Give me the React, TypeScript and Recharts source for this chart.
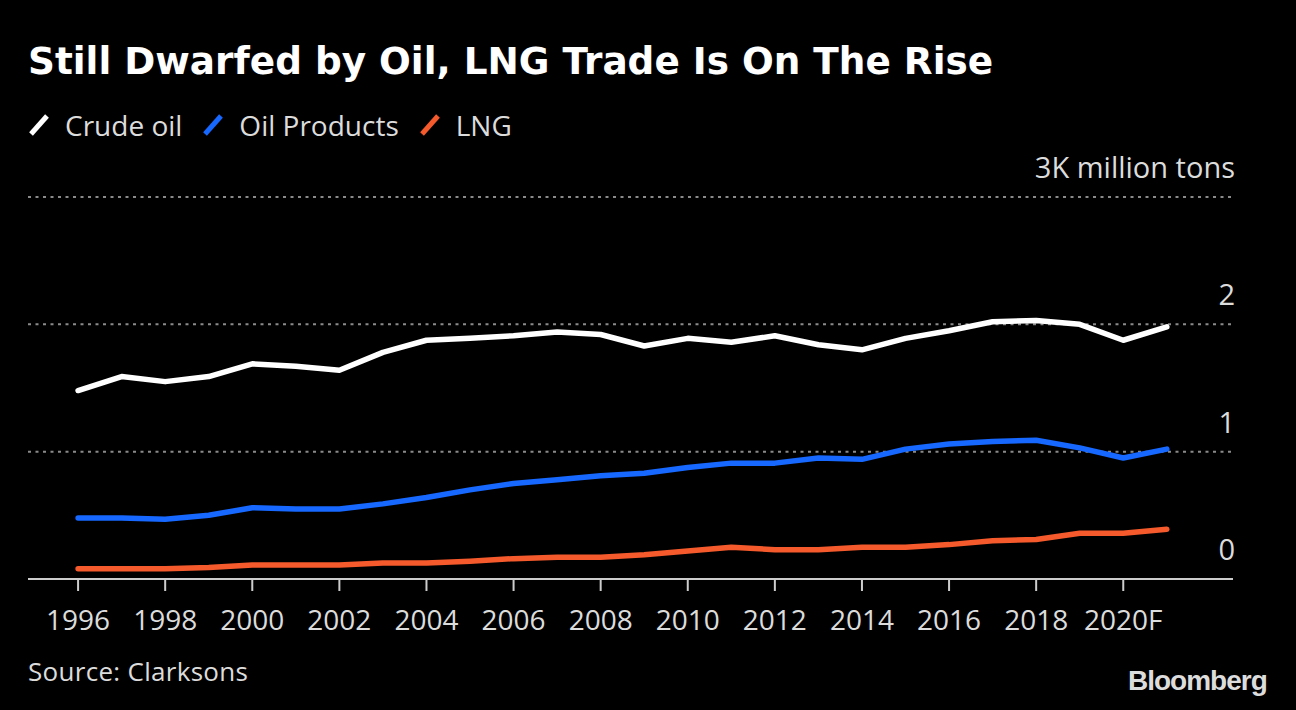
import { LineChart, Line, XAxis, YAxis, CartesianGrid } from "recharts";

// trade volumes, thousand million tons
const years = [
  1996, 1997, 1998, 1999, 2000, 2001, 2002, 2003, 2004, 2005, 2006, 2007, 2008,
  2009, 2010, 2011, 2012, 2013, 2014, 2015, 2016, 2017, 2018, 2019, 2020, 2021,
];
const crudeOil = [
  1.48, 1.59, 1.55, 1.59, 1.69, 1.67, 1.64, 1.78, 1.875, 1.89, 1.91, 1.94, 1.92,
  1.83, 1.89, 1.86, 1.91, 1.84, 1.8, 1.89, 1.95, 2.02, 2.03, 2.0, 1.875, 1.98,
];
const oilProducts = [
  0.48, 0.48, 0.47, 0.5, 0.56, 0.55, 0.55, 0.59, 0.64, 0.7, 0.75, 0.78, 0.81,
  0.83, 0.875, 0.91, 0.91, 0.95, 0.94, 1.02, 1.06, 1.08, 1.09, 1.03, 0.95, 1.02,
];
const lng = [
  0.08, 0.08, 0.08, 0.09, 0.11, 0.11, 0.11, 0.125, 0.125, 0.14, 0.16, 0.17, 0.17,
  0.19, 0.22, 0.25, 0.23, 0.23, 0.25, 0.25, 0.27, 0.3, 0.31, 0.36, 0.36, 0.39,
];

const xTicks = [1996, 1998, 2000, 2002, 2004, 2006, 2008, 2010, 2012, 2014, 2016, 2018, 2020];
const yTicks = [0, 1, 2, 3];

const series = [
  { key: "crude", name: "Crude oil", color: "#ffffff" },
  { key: "products", name: "Oil Products", color: "#1668ff" },
  { key: "lng", name: "LNG", color: "#f55a2c" },
];

const data = years.map((year, i) => ({
  year,
  crude: crudeOil[i],
  products: oilProducts[i],
  lng: lng[i],
}));

const FONT = "'Open Sans', sans-serif";
const TEXT = "#dcdcdc";

const renderYTick = (props: any) => {
  const { y, payload } = props;
  const label = payload.value === 3 ? "3K million tons" : String(payload.value);
  return (
    <text x={1235} y={y - 19} textAnchor="end" fill={TEXT} fontSize={29} fontFamily={FONT}>
      {label}
    </text>
  );
};

export default function App() {
  return (
    <div
      style={{
        position: "fixed",
        left: 0,
        top: 0,
        width: 1296,
        height: 710,
        background: "#000",
        overflow: "hidden",
        fontFamily: FONT,
      }}
    >
      <div
        style={{
          position: "absolute",
          left: 28,
          top: 39,
          color: "#fff",
          fontFamily: "'DejaVu Sans', sans-serif",
          fontWeight: 700,
          fontSize: 37.4,
          whiteSpace: "nowrap",
        }}
      >
        Still Dwarfed by Oil, LNG Trade Is On The Rise
      </div>

      <div style={{ position: "absolute", left: 28, top: 106, display: "flex", alignItems: "center" }}>
        {series.map((s) => (
          <div key={s.key} style={{ display: "flex", alignItems: "center", marginRight: 20 }}>
            <svg width={22} height={24}>
              <line x1={3} y1={21} x2={19} y2={3} stroke={s.color} strokeWidth={5} />
            </svg>
            <span style={{ color: TEXT, fontSize: 28, marginLeft: 15 }}>{s.name}</span>
          </div>
        ))}
      </div>

      <div style={{ position: "absolute", left: 0, top: 0 }}>
        <LineChart
          width={1296}
          height={710}
          data={data}
          margin={{ top: 197, right: 61, left: 28, bottom: 71 }}
        >
          <CartesianGrid
            vertical={false}
            stroke="#8a8a8a"
            strokeWidth={2}
            strokeDasharray="3 4.5"
          />
          <XAxis
            dataKey="year"
            type="number"
            domain={[1994.85, 2022.52]}
            ticks={xTicks}
            interval={0}
            height={60}
            tickSize={12}
            tickMargin={19}
            tickFormatter={(v: number) => (v === 2020 ? "2020F" : String(v))}
            axisLine={{ stroke: "#cccccc", strokeWidth: 2 }}
            tickLine={{ stroke: "#cccccc", strokeWidth: 2 }}
            tick={{ fill: TEXT, fontSize: 28, fontFamily: FONT }}
          />
          <YAxis
            orientation="right"
            width={2}
            domain={[0, 3]}
            ticks={yTicks}
            interval={0}
            axisLine={false}
            tickLine={false}
            tick={renderYTick}
          />
          {series.map((s) => (
            <Line
              key={s.key}
              dataKey={s.key}
              type="linear"
              stroke={s.color}
              strokeWidth={5.5}
              strokeLinecap="round"
              strokeLinejoin="round"
              dot={false}
              isAnimationActive={false}
            />
          ))}
        </LineChart>
      </div>

      <div
        style={{ position: "absolute", left: 28, top: 653, color: TEXT, fontSize: 26, letterSpacing: 0.3 }}
      >
        Source: Clarksons
      </div>
      <div
        style={{
          position: "absolute",
          left: 1128,
          top: 665,
          color: "#dcdcdc",
          fontFamily: "'Liberation Sans', Arial, sans-serif",
          fontWeight: 700,
          fontSize: 28,
          letterSpacing: -1,
        }}
      >
        Bloomberg
      </div>
    </div>
  );
}
